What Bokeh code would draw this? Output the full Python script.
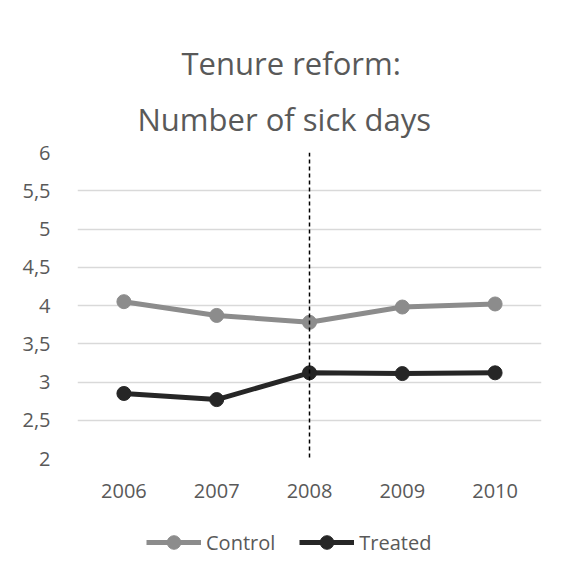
from bokeh.plotting import figure
from bokeh.models import (FactorRange, Range1d, FixedTicker, Span, Legend,
                          LegendItem, ColumnDataSource, Title)
from bokeh.layouts import column
from bokeh.embed import file_html
from bokeh.resources import INLINE

years = ["2006", "2007", "2008", "2009", "2010"]
control = [4.05, 3.87, 3.78, 3.98, 4.02]
treated = [2.85, 2.77, 3.12, 3.11, 3.12]
y_ticks = [2, 2.5, 3, 3.5, 4, 4.5, 5, 5.5, 6]
y_tick_labels = ["2", "2,5", "3", "3,5", "4", "4,5", "5", "5,5", "6"]
reform_year = "2008"
title_lines = ["Tenure reform:", "Number of sick days"]
series_names = ["Control", "Treated"]

FONT = "Open Sans"
TXT = "#595959"
GRID = "#d9d9d9"
C_CONTROL = "#8c8c8c"
C_TREATED = "#262626"

p = figure(width=561, height=516, x_range=FactorRange(*years, range_padding=0),
           y_range=Range1d(2, 6), output_backend="svg", toolbar_location=None,
           min_border_left=77, min_border_right=20, min_border_top=152,
           min_border_bottom=58)
p.outline_line_color = None
p.background_fill_color = "white"
p.border_fill_color = "white"

# two title lines (outer line = p.title, inner line added next to the frame)
p.title.text = title_lines[0]
t2 = Title(text=title_lines[1])
for t in (p.title, t2):
    t.align = "left"
    t.text_font = FONT
    t.text_font_size = "31px"
    t.text_font_style = "normal"
    t.text_color = TXT
p.title.offset = 104
t2.offset = 60
p.title.standoff = 0
t2.standoff = 25
p.add_layout(t2, "above")

# axes
p.yaxis.ticker = FixedTicker(ticks=y_ticks)
p.yaxis.major_label_overrides = {t: l for t, l in zip(y_ticks, y_tick_labels)}
for ax in (p.xaxis[0], p.yaxis[0]):
    ax.axis_line_color = None
    ax.major_tick_line_color = None
    ax.minor_tick_line_color = None
    ax.major_label_text_font = FONT
    ax.major_label_text_font_size = "20px"
    ax.major_label_text_color = TXT
p.yaxis.major_label_standoff = 21
p.xaxis.major_label_standoff = 19
p.xgrid.grid_line_color = None
p.ygrid.grid_line_color = GRID
p.ygrid.grid_line_width = 1.5

src = ColumnDataSource(dict(x=years, c=control, t=treated))
p.line("x", "c", source=src, line_color=C_CONTROL, line_width=5)
p.scatter("x", "c", source=src, size=14, fill_color=C_CONTROL, line_color=C_CONTROL)
p.line("x", "t", source=src, line_color=C_TREATED, line_width=5)
p.scatter("x", "t", source=src, size=14, fill_color=C_TREATED, line_color=C_TREATED)

vline = Span(location=years.index(reform_year) + 0.5, dimension="height",
             line_color="black", line_width=1.5, line_dash="4 3")
p.add_layout(vline)

# legend strip (its own small figure, glyphs kept out of view)
pl = figure(width=561, height=58, x_range=Range1d(0, 1), y_range=Range1d(100, 101),
            output_backend="svg", toolbar_location=None, min_border=0,
            x_axis_location=None, y_axis_location=None)
pl.outline_line_color = None
pl.grid.visible = False
items = []
for name, col in zip(series_names, [C_CONTROL, C_TREATED]):
    r1 = pl.line([0, 1], [0, 0], line_color=col, line_width=5)
    r2 = pl.scatter([0], [0], size=14, fill_color=col, line_color=col)
    items.append(LegendItem(label=name, renderers=[r1, r2]))
legend = Legend(items=items, orientation="horizontal", location=(69, 15),
                glyph_width=55, glyph_height=34, label_text_font=FONT,
                label_text_font_size="20px", label_text_color=TXT,
                border_line_color=None, background_fill_alpha=0,
                spacing=24, label_standoff=5, padding=0, margin=0)
pl.add_layout(legend)

open("out.html", "w").write(file_html(column(p, pl, spacing=0), INLINE))
